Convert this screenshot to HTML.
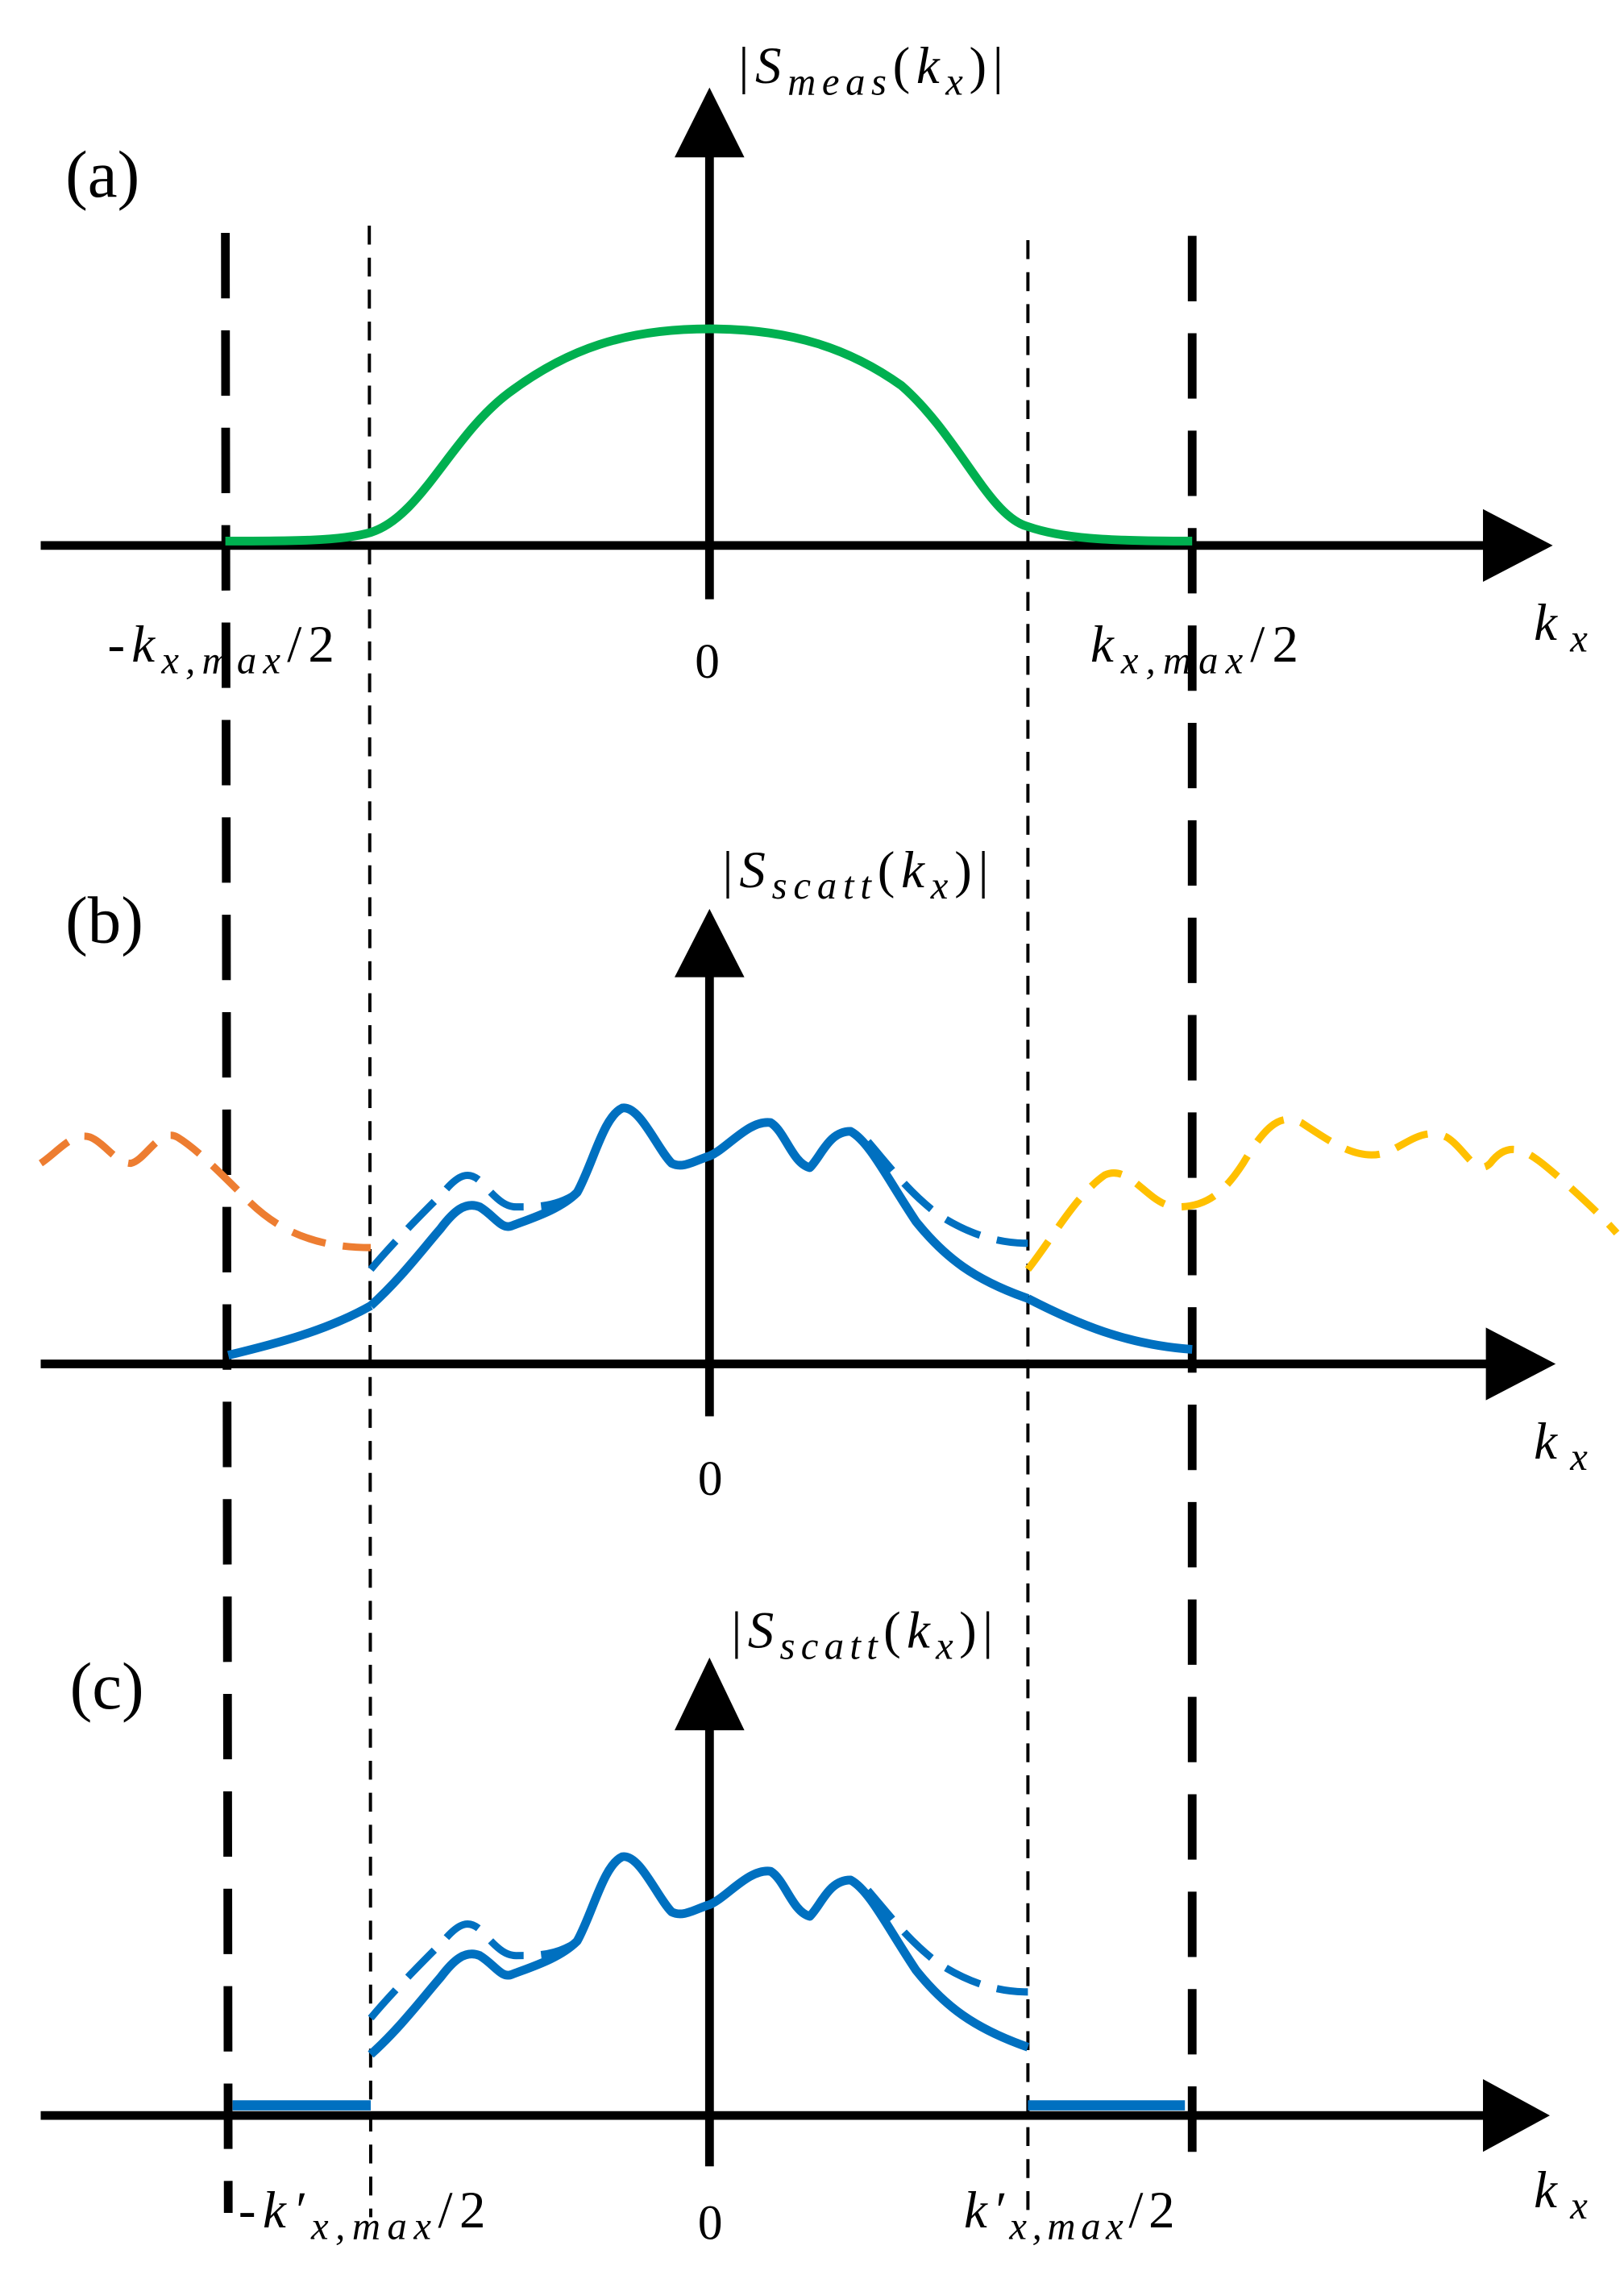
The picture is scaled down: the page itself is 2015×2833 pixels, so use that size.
<!DOCTYPE html>
<html><head><style>html,body{margin:0;padding:0;background:#fff}svg{display:block}</style></head>
<body>
<svg width="2015" height="2833" viewBox="0 0 1117 1570" xmlns="http://www.w3.org/2000/svg" font-family="Liberation Serif, serif">
<defs>
<g id="blue">
<path d="M255,898 C275,880 290,860 303,845 C312,833 320,826 330,830 C340,836 345,846 352,843 C365,838 385,832 397,820 C408,800 415,768 428,762 C440,760 452,790 462,800 C470,804 478,798 488,795 C500,790 515,770 530,772 C540,778 545,800 557,803 C565,795 570,778 585,778 C598,785 610,810 630,840 C650,865 670,880 707,893" fill="none" stroke="#0070c0" stroke-width="6" stroke-linejoin="round"/>
<path d="M255,873 C270,855 290,835 305,820 C315,808 322,805 330,812 C338,820 345,830 355,830 C370,830 385,830 400,818" fill="none" stroke="#0070c0" stroke-width="5" stroke-dasharray="26,12"/>
<path d="M597,785 C610,800 625,820 645,835 C665,848 685,855 707,855" fill="none" stroke="#0070c0" stroke-width="5" stroke-dasharray="26,12"/>
</g>
</defs>
<line x1="155" y1="160" x2="157" y2="1522" stroke="#000" stroke-width="6" stroke-dasharray="45,22"/>
<line x1="820" y1="162" x2="820" y2="1497" stroke="#000" stroke-width="6" stroke-dasharray="45,22"/>
<line x1="254" y1="155" x2="255" y2="1525" stroke="#000" stroke-width="2.2" stroke-dasharray="13,9"/>
<line x1="707" y1="165" x2="707" y2="1525" stroke="#000" stroke-width="2.2" stroke-dasharray="13,9"/>

<!-- panel a -->
<line x1="28" y1="375" x2="1025" y2="375" stroke="#000" stroke-width="6"/>
<polygon points="1020,350 1068,375 1020,400" fill="#000"/>
<line x1="488" y1="412" x2="488" y2="100" stroke="#000" stroke-width="6"/>
<polygon points="464,108 488,60 512,108" fill="#000"/>
<path d="M155,372 C200,372 235,372 255,366 C290,355 310,300 350,270 C390,240 430,226 488,226 C545,226 585,240 620,265 C660,300 680,355 707,362 C730,370 760,372 820,372" fill="none" stroke="#00b050" stroke-width="6"/>
<text x="45" y="135" font-size="46">(a)</text>
<text x="74" y="455" font-size="36" textLength="156" lengthAdjust="spacing">-<tspan font-style="italic">k</tspan><tspan font-style="italic" font-size="27" dy="8">x,max</tspan><tspan dy="-8">/2</tspan></text>
<text x="478" y="466" font-size="34">0</text>
<text x="750" y="455" font-size="36" textLength="143" lengthAdjust="spacing"><tspan font-style="italic">k</tspan><tspan font-style="italic" font-size="27" dy="8">x,max</tspan><tspan dy="-8">/2</tspan></text>
<text x="1055" y="440" font-size="36" font-style="italic" textLength="37" lengthAdjust="spacing">k<tspan font-size="27" dy="8">x</tspan></text>
<text x="508" y="57" font-size="36" textLength="182" lengthAdjust="spacing">|<tspan font-style="italic">S</tspan><tspan font-style="italic" font-size="27" dy="8">meas</tspan><tspan dy="-8">(</tspan><tspan font-style="italic">k</tspan><tspan font-style="italic" font-size="27" dy="8">x</tspan><tspan dy="-8">)|</tspan></text>

<!-- panel b -->
<line x1="28" y1="938" x2="1025" y2="938" stroke="#000" stroke-width="6"/>
<polygon points="1022,913 1070,938 1022,963" fill="#000"/>
<line x1="488" y1="974" x2="488" y2="665" stroke="#000" stroke-width="6"/>
<polygon points="464,672 488,625 512,672" fill="#000"/>
<path d="M157,932 C190,924 225,915 255,898" fill="none" stroke="#0070c0" stroke-width="6"/>
<path d="M707,893 C740,910 775,925 820,928" fill="none" stroke="#0070c0" stroke-width="6"/>
<use href="#blue"/>
<path d="M28,800 C40,792 50,778 62,782 C72,786 80,800 90,800 C100,798 110,775 122,782 C135,790 150,805 170,825 C190,845 215,858 255,858" fill="none" stroke="#ed7d31" stroke-width="5" stroke-dasharray="24,12"/>
<path d="M707,873 C725,850 740,822 760,808 C778,800 790,830 810,830 C830,830 842,820 855,800 C870,775 880,765 895,772 C915,785 935,800 955,792 C970,785 980,775 995,782 C1008,790 1015,810 1025,800 C1040,780 1055,795 1075,812 C1095,830 1105,840 1112,848" fill="none" stroke="#ffc000" stroke-width="5" stroke-dasharray="24,12"/>
<text x="45" y="648" font-size="46">(b)</text>
<text x="480" y="1028" font-size="34">0</text>
<text x="1055" y="1003" font-size="36" font-style="italic" textLength="37" lengthAdjust="spacing">k<tspan font-size="27" dy="8">x</tspan></text>
<text x="497" y="610" font-size="36" textLength="183" lengthAdjust="spacing">|<tspan font-style="italic">S</tspan><tspan font-style="italic" font-size="27" dy="8">scatt</tspan><tspan dy="-8">(</tspan><tspan font-style="italic">k</tspan><tspan font-style="italic" font-size="27" dy="8">x</tspan><tspan dy="-8">)|</tspan></text>

<!-- panel c -->
<line x1="28" y1="1455" x2="1025" y2="1455" stroke="#000" stroke-width="6"/>
<polygon points="1020,1430 1066,1455 1020,1480" fill="#000"/>
<line x1="488" y1="1490" x2="488" y2="1180" stroke="#000" stroke-width="6"/>
<polygon points="464,1190 488,1140 512,1190" fill="#000"/>
<g transform="translate(0,515)"><use href="#blue"/></g>
<line x1="160" y1="1448" x2="255" y2="1448" stroke="#0070c0" stroke-width="7"/>
<line x1="707" y1="1448" x2="815" y2="1448" stroke="#0070c0" stroke-width="7"/>
<text x="48" y="1175" font-size="46">(c)</text>
<text x="164" y="1532" font-size="36" textLength="170" lengthAdjust="spacing">-<tspan font-style="italic">k′</tspan><tspan font-style="italic" font-size="27" dy="8">x,max</tspan><tspan dy="-8">/2</tspan></text>
<text x="480" y="1540" font-size="34">0</text>
<text x="663" y="1532" font-size="36" textLength="145" lengthAdjust="spacing"><tspan font-style="italic">k′</tspan><tspan font-style="italic" font-size="27" dy="8">x,max</tspan><tspan dy="-8">/2</tspan></text>
<text x="1055" y="1518" font-size="36" font-style="italic" textLength="37" lengthAdjust="spacing">k<tspan font-size="27" dy="8">x</tspan></text>
<text x="503" y="1133" font-size="36" textLength="180" lengthAdjust="spacing">|<tspan font-style="italic">S</tspan><tspan font-style="italic" font-size="27" dy="8">scatt</tspan><tspan dy="-8">(</tspan><tspan font-style="italic">k</tspan><tspan font-style="italic" font-size="27" dy="8">x</tspan><tspan dy="-8">)|</tspan></text>
</svg>
</body></html>
